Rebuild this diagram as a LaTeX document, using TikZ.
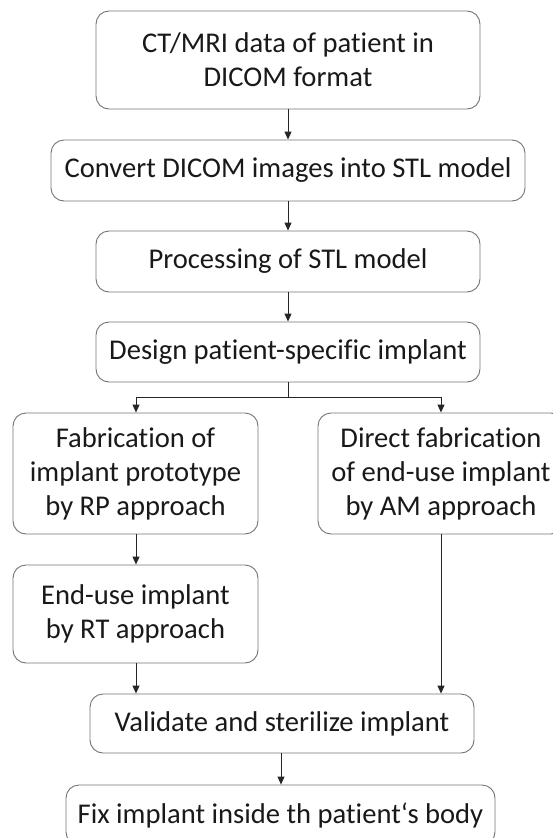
\documentclass[tikz,border=0pt]{standalone}
\usepackage{fontspec}
\setmainfont{Carlito}[Ligatures={NoCommon,NoRare,NoContextual}]
\usetikzlibrary{arrows.meta,positioning}
\begin{document}
\begin{tikzpicture}[x=1pt,y=1pt,
  box/.style={draw=black!55, line width=0.9pt, rounded corners=13pt, align=center,
    inner sep=0pt, font=\fontsize{28.6}{34}\selectfont, text=black!90},
  arr/.style={draw=black!85, line width=1pt, -{Triangle[length=8pt,width=7pt]}},
  ln/.style={draw=black!85, line width=1pt}]
\useasboundingbox (0,0) rectangle (553,-838);
\clip (0,0) rectangle (553,-838);
\node[box, minimum width=384pt, minimum height=98pt] (b1) at (288,-60) {CT/MRI data of patient in\\DICOM format};
\node[box, minimum width=474pt, minimum height=61pt] (b2) at (288,-170.5) {Convert DICOM images into STL model};
\node[box, minimum width=384pt, minimum height=61pt] (b3) at (288,-261.5) {Processing of STL model};
\node[box, minimum width=384pt, minimum height=60pt] (b4) at (288,-352) {Design patient-specific implant};
\node[box, minimum width=245pt, minimum height=121pt] (b5) at (135.5,-473.5) {Fabrication of\\implant prototype\\by RP approach};
\node[box, minimum width=246pt, minimum height=121pt] (b6) at (441,-473.5) {Direct fabrication\\of end-use implant\\by AM approach};
\node[box, minimum width=245pt, minimum height=98pt] (b7) at (135.5,-614) {End-use implant\\by RT approach};
\node[box, minimum width=384pt, minimum height=59pt] (b8) at (282,-723.5) {Validate and sterilize implant};
\node[box, minimum width=429pt, minimum height=60pt] (b9) at (280.5,-815) {Fix implant inside th patient‘s body};
\draw[arr] (b1) -- (b2);
\draw[arr] (b2) -- (b3);
\draw[arr] (b3) -- (b4);
\coordinate (split) at (288,-397);
\coordinate (sl) at (136,-397);
\coordinate (sr) at (441,-397);
\draw[ln] (b4.south) -- (split);
\draw[arr] (split) -- (sl) -- (sl |- b5.north);
\draw[arr] (split) -- (sr) -- (sr |- b6.north);
\draw[arr] (sl |- b5.south) -- (sl |- b7.north);
\draw[arr] (sl |- b7.south) -- (sl |- b8.north);
\draw[arr] (sr |- b6.south) -- (sr |- b8.north);
\draw[arr] (281,-753) coordinate (c8) -- (c8 |- b9.north);
\end{tikzpicture}
\end{document}
